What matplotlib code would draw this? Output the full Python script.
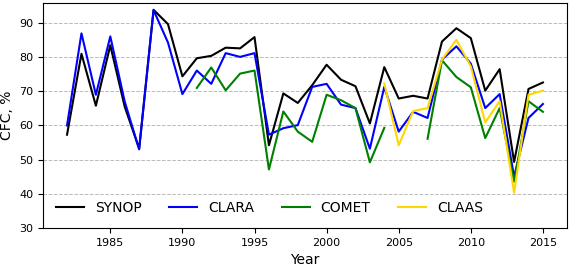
import numpy as np
import matplotlib.pyplot as plt

years = np.arange(1982, 2016)

synop = [57.3, 81.0, 65.8, 83.5, 65.5, 53.2, 93.9, 89.7, 74.4, 79.7,
         80.4, 82.8, 82.6, 85.9, 54.2, 69.4, 66.6, 71.8, 77.8, 73.4,
         71.5, 60.6, 77.1, 67.9, 68.7, 67.9, 84.6, 88.5, 85.6, 70.2,
         76.5, 49.3, 70.7, 72.6]

clara = [60.0, 87.0, 69.0, 86.1, 67.0, 53.0, 93.8, 84.3, 69.2, 76.1,
         72.2, 81.2, 80.1, 81.2, 57.3, 59.2, 60.1, 71.3, 72.2, 66.1,
         65.1, 53.2, 71.3, 58.2, 64.0, 62.2, 79.3, 83.2, 78.1, 65.1,
         69.2, 45.0, 62.2, 66.3]

nan = np.nan
comet = [nan, nan, nan, nan, nan, nan, nan, nan, nan, 71.0,
         77.0, 70.3, 75.2, 76.1, 47.1, 64.1, 58.2, 55.2, 69.0, 67.4,
         65.1, 49.2, 59.3, nan, nan, 56.1, 79.1, 74.2, 71.2, 56.3,
         65.1, 43.5, 67.1, 64.0]

claas = [nan] * 22 + [72.3, 54.2, 64.2, 65.1, 79.3, 85.1, 77.3, 60.9,
                      67.1, 40.3, 69.0, 70.2]

fig, ax = plt.subplots(figsize=(5.69, 2.64), dpi=100)

ax.plot(years, synop, color='black', lw=1.5, label='SYNOP')
ax.plot(years, clara, color='blue', lw=1.5, label='CLARA')
ax.plot(years, comet, color='green', lw=1.5, label='COMET')
ax.plot(years, claas, color='gold', lw=1.5, label='CLAAS')

ax.set_ylim(30, 96)
ax.set_yticks([30, 40, 50, 60, 70, 80, 90])
ax.set_xticks([1985, 1990, 1995, 2000, 2005, 2010, 2015])
ax.tick_params(labelsize=8)
ax.yaxis.grid(True, linestyle='--', color='#bbbbbb', lw=0.7)
ax.set_axisbelow(True)

ax.set_xlabel('Year', fontsize=10)
ax.set_ylabel('CFC, %', fontsize=10)
ax.legend(loc='lower left', ncol=4, frameon=False, fontsize=10)

fig.subplots_adjust(left=0.076, right=0.996, top=0.99, bottom=0.137)
fig.savefig('out.png')
